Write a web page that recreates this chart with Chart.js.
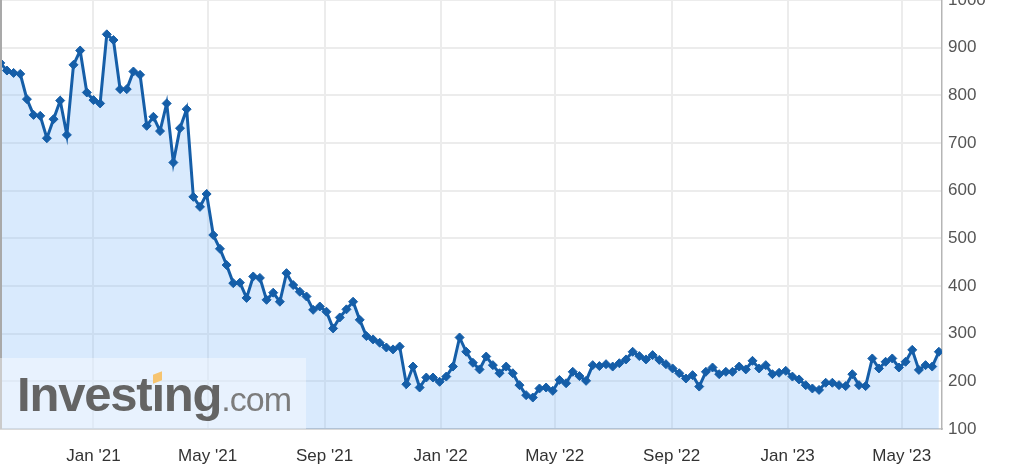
<!DOCTYPE html>
<html>
<head>
<meta charset="utf-8">
<script src="https://cdn.jsdelivr.net/npm/chart.js@4.4.1/dist/chart.umd.min.js"></script>
<style>
  html, body { margin: 0; padding: 0; background: #fff; }
  #wrap { position: relative; width: 1024px; height: 476px; overflow: hidden; }
  #chart { position: absolute; left: 0; top: 0; }
  .wm-box { position: absolute; left: 0; top: 358px; width: 306px; height: 71px; background: rgba(255, 255, 255, 0.4); }
  .wm { position: absolute; left: 17px; top: 370px; font-family: "Liberation Sans", Arial, sans-serif; line-height: 49px; white-space: nowrap; }
  .wm .big { font-size: 49px; font-weight: bold; color: #646464; letter-spacing: -1.2px; }
  .wm .small { font-size: 34px; font-weight: normal; color: #7c7c7c; letter-spacing: -1px; }
  .wm-dot { position: absolute; left: 153px; top: 373px; width: 9px; height: 9px; background: #f6c470; transform: skewY(-20deg); }
</style>
</head>
<body>
<div id="wrap">
  <canvas id="chart" width="1024" height="476"></canvas>
  <div class="wm-box"></div>
  <div class="wm"><span class="big">Investıng</span><span class="small">.com</span></div>
  <div class="wm-dot"></div>
</div>
<script>
// weekly closes, first week ending 2020-09-25
const startDate = "2020-09-25";
const closeValues = [
  868, 852, 847, 845, 792, 759, 757, 710, 750, 789,
  717, 864, 894, 806, 790, 783, 928, 916, 813, 813,
  850, 843, 736, 755, 725, 783, 659, 731, 771, 587,
  566, 593, 507, 478, 444, 406, 407, 375, 420, 417,
  371, 386, 367, 427, 402, 388, 378, 350, 357, 346,
  311, 334, 351, 367, 329, 295, 288, 281, 271, 267,
  273, 194, 231, 187, 208, 208, 199, 210, 231, 292,
  262, 239, 225, 252, 234, 217, 231, 217, 192, 171,
  166, 185, 187, 180, 203, 196, 220, 211, 201, 234,
  232, 236, 231, 238, 246, 262, 253, 246, 255, 245,
  236, 227, 217, 206, 213, 189, 220, 229, 215, 220,
  220, 231, 225, 243, 227, 234, 215, 218, 222, 210,
  204, 192, 185, 182, 197, 197, 192, 190, 215, 192,
  190, 248, 227, 241, 248, 229, 241, 266, 224, 234,
  231, 262
];
const tickDates = ["2021-01-01", "2021-05-01", "2021-09-01", "2022-01-01", "2022-05-01", "2022-09-01", "2023-01-01", "2023-05-01"];
const tickLabels = ["Jan '21", "May '21", "Sep '21", "Jan '22", "May '22", "Sep '22", "Jan '23", "May '23"];

const DAY = 86400000;
const toDay = s => Date.parse(s + "T00:00:00Z") / DAY;
const firstDay = toDay(startDate);
const points = closeValues.map((v, i) => ({ x: firstDay + 7 * i, y: v }));
const lastDay = points[points.length - 1].x;
const tickDays = tickDates.map(toDay);

const lineBlue = "#155ea8";
const gridGrey = "#ececec";

const leftBorder = {
  id: "leftBorder",
  afterDraw(chart) {
    const { ctx, chartArea } = chart;
    ctx.save();
    ctx.strokeStyle = "#a9a9a9";
    ctx.lineWidth = 2;
    ctx.beginPath();
    ctx.moveTo(chartArea.left + 1, chartArea.top);
    ctx.lineTo(chartArea.left + 1, chartArea.bottom);
    ctx.stroke();
    ctx.restore();
  }
};

const ctx = document.getElementById("chart").getContext("2d");
const chart = new Chart(ctx, {
  type: "line",
  data: {
    datasets: [{
      data: points,
      borderColor: lineBlue,
      borderWidth: 3,
      backgroundColor: "rgba(128, 185, 248, 0.3)",
      fill: "start",
      tension: 0,
      pointStyle: "rectRot",
      pointRadius: 4.5,
      pointBackgroundColor: lineBlue,
      pointBorderColor: lineBlue,
      pointBorderWidth: 1
    }]
  },
  options: {
    responsive: false,
    animation: false,
    devicePixelRatio: 1,
    layout: { padding: 0, autoPadding: false },
    plugins: { legend: { display: false }, tooltip: { enabled: false } },
    scales: {
      x: {
        type: "linear",
        min: firstDay - 0.3,
        max: lastDay + 3.3,
        afterBuildTicks: scale => { scale.ticks = tickDays.map(v => ({ value: v })); },
        afterFit: scale => { scale.height = 47; scale.paddingLeft = 0; scale.paddingRight = 0; },
        ticks: {
          autoSkip: false,
          maxRotation: 0,
          padding: 17,
          color: "#333",
          font: { family: "'Liberation Sans', Arial, sans-serif", size: 17 },
          callback: (v, i) => tickLabels[i]
        },
        grid: { color: gridGrey, lineWidth: 2, drawTicks: false },
        border: { display: true, color: "#c8c8c8", width: 1.5 }
      },
      y: {
        position: "right",
        min: 100,
        max: 1000,
        afterFit: scale => { scale.width = 82; scale.paddingTop = 0; scale.paddingBottom = 0; },
        ticks: {
          stepSize: 100,
          padding: 6,
          color: "#555",
          font: { family: "'Liberation Sans', Arial, sans-serif", size: 17 },
          callback: v => String(v)
        },
        grid: { color: gridGrey, lineWidth: 2, drawTicks: false },
        border: { display: true, color: "#b5b5b5", width: 1.5 }
      }
    }
  },
  plugins: [leftBorder]
});
</script>
</body>
</html>
